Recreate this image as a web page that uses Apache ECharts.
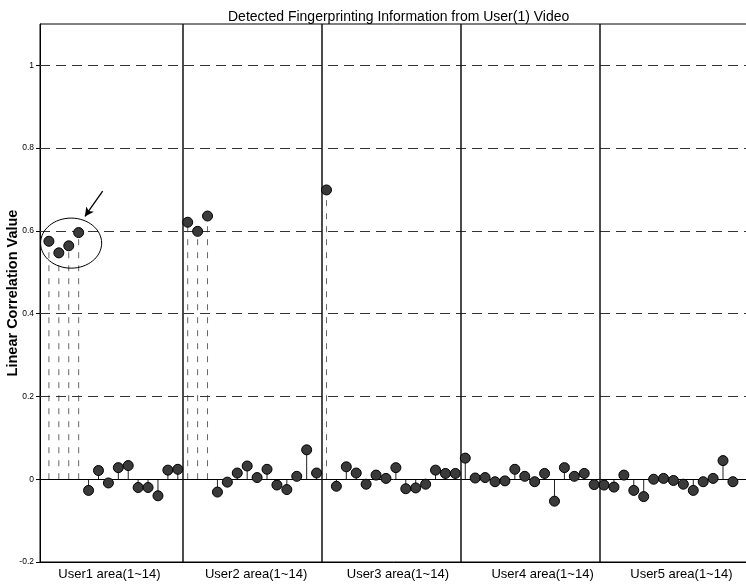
<!DOCTYPE html>
<html>
<head>
<meta charset="utf-8">
<script src="https://cdn.jsdelivr.net/npm/echarts@6/dist/echarts.min.js"></script>
<style>html,body{margin:0;padding:0;background:#fff}#c{width:746px;height:584px}</style>
</head>
<body>
<div id="c"></div>
<script>
// ---- data ----
var user1 = [0.575, 0.547, 0.564, 0.596, -0.027, 0.021, -0.009, 0.028, 0.033, -0.020, -0.020, -0.040, 0.022, 0.024];
var user2 = [0.621, 0.599, 0.636, -0.031, -0.007, 0.015, 0.032, 0.004, 0.024, -0.014, -0.025, 0.007, 0.071, 0.015];
var user3 = [0.699, -0.017, 0.030, 0.015, -0.012, 0.010, 0.002, 0.028, -0.023, -0.021, -0.012, 0.022, 0.014, 0.014];
var user4 = [0.051, 0.003, 0.004, -0.006, -0.004, 0.024, 0.007, -0.006, 0.014, -0.053, 0.028, 0.007, 0.014, -0.013];
var user5 = [-0.014, -0.019, 0.010, -0.027, -0.042, 0.000, 0.002, -0.003, -0.012, -0.027, -0.006, 0.002, 0.045, -0.006];
var areaLabels = ['User1 area(1~14)', 'User2 area(1~14)', 'User3 area(1~14)', 'User4 area(1~14)', 'User5 area(1~14)'];
var areaLabelAt = [7.1, 21.9, 36.2, 50.8, 64.8];
var separators = [14.55, 28.55, 42.55, 56.55];
var yTicks = [-0.2, 0, 0.2, 0.4, 0.6, 0.8, 1];
var gridLevels = [0.2, 0.4, 0.6, 0.8, 1.0];
var circleNote = { cx: 3.24, cy: 0.5705, rx: 3.08, ry: 0.0605 };
var arrowNote = { from: [6.42, 0.696], to: [4.63, 0.635] };

// ---- build ----
var all = user1.concat(user2, user3, user4, user5);
var pts = all.map(function (v, i) { return [i + 1, v]; });

var chart = echarts.init(document.getElementById('c'), null, { renderer: 'canvas' });
var font = 'Liberation Sans, Arial, sans-serif';

var option = {
  animation: false,
  backgroundColor: '#fff',
  title: {
    text: 'Detected Fingerprinting Information from User(1) Video',
    left: 223, top: 5,
    textStyle: { fontFamily: font, fontSize: 14, fontWeight: 'normal', color: '#000' }
  },
  grid: {
    left: 40, right: -1, top: 24, bottom: 22,
    containLabel: false, outerBoundsMode: 'none',
    show: true, borderColor: '#000', borderWidth: 1, backgroundColor: 'transparent'
  },
  xAxis: {
    type: 'value', min: 0.1, max: 71.42,
    axisLine: { show: true, onZero: false, lineStyle: { color: '#000', width: 1 } },
    axisTick: { show: false },
    splitLine: { show: false },
    axisLabel: {
      customValues: areaLabelAt,
      formatter: function (v) { var k = areaLabelAt.indexOf(v); return k >= 0 ? areaLabels[k] : ''; },
      fontFamily: font, fontSize: 13, color: '#000', margin: 6
    }
  },
  yAxis: {
    type: 'value', min: -0.2, max: 1.1,
    name: 'Linear Correlation Value', nameLocation: 'middle', nameGap: 20, nameMoveOverlap: false,
    nameTextStyle: { fontFamily: font, fontSize: 14.5, fontWeight: 'bold', color: '#000' },
    axisLine: { show: true, lineStyle: { color: '#000', width: 1 } },
    axisTick: { show: true, customValues: yTicks, length: 4, lineStyle: { color: '#000' } },
    splitLine: { show: false },
    axisLabel: {
      customValues: yTicks,
      formatter: function (v) { return String(Math.round(v * 10) / 10); },
      fontFamily: 'Liberation Sans Narrow, Liberation Sans, sans-serif', fontSize: 8.5, color: '#000', margin: 6
    }
  },
  series: [
    {
      type: 'custom', name: 'stems', z: 3, silent: true,
      data: pts,
      renderItem: function (params, api) {
        var x = api.value(0), y = api.value(1);
        var p0 = api.coord([x, 0]), p1 = api.coord([x, y]);
        var tall = Math.abs(y) > 0.3;
        return {
          type: 'line',
          shape: { x1: p0[0], y1: p0[1], x2: p1[0], y2: p1[1] },
          style: { stroke: tall ? '#666' : '#222', lineWidth: 1, lineDash: tall ? [6, 7] : null }
        };
      },
      markLine: {
        silent: true, symbol: 'none', label: { show: false },
        data: gridLevels.map(function (g) { return { yAxis: g, lineStyle: { color: '#333', type: [10, 6], width: 1 } }; })
          .concat([{ yAxis: 0, lineStyle: { color: '#000', type: 'solid', width: 1 } }])
          .concat(separators.map(function (s) { return { xAxis: s, lineStyle: { color: '#111', type: 'solid', width: 1.5 } }; }))
      }
    },
    {
      type: 'scatter', name: 'values', z: 5, silent: true,
      data: pts, symbol: 'circle', symbolSize: 10,
      itemStyle: { color: '#3a3a3a', borderColor: '#000', borderWidth: 1, opacity: 1 }
    },
    {
      type: 'custom', name: 'note', z: 6, silent: true,
      data: [[circleNote.cx, circleNote.cy]],
      renderItem: function (params, api) {
        var c = api.coord([circleNote.cx, circleNote.cy]);
        var s = api.size([circleNote.rx, circleNote.ry]);
        return {
          type: 'ellipse',
          shape: { cx: c[0], cy: c[1], rx: s[0], ry: s[1] },
          style: { fill: 'none', stroke: '#000', lineWidth: 1 }
        };
      },
      markLine: {
        silent: true, symbol: ['none', 'arrow'], symbolSize: [7, 9], label: { show: false },
        lineStyle: { color: '#000', type: 'solid', width: 1.3 },
        data: [[{ coord: arrowNote.from }, { coord: arrowNote.to }]]
      }
    }
  ]
};
chart.setOption(option);
</script>
</body>
</html>
